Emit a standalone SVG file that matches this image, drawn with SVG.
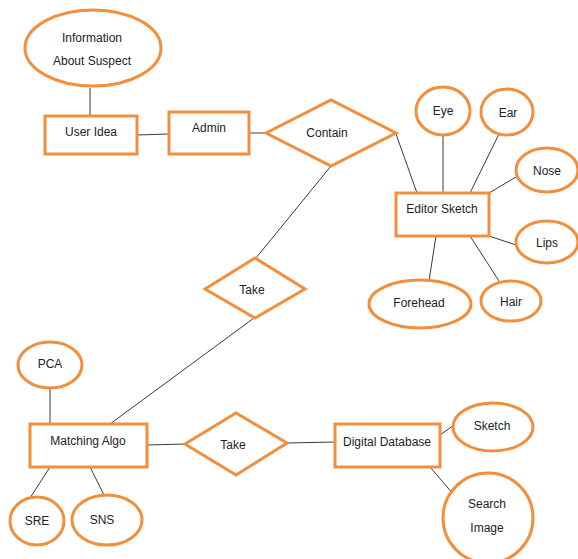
<svg xmlns="http://www.w3.org/2000/svg" width="578" height="559" viewBox="0 0 578 559">
<style>
.s{fill:#fff;stroke:#F28E3C;stroke-width:3}
.c line{stroke:#3a3a3a;stroke-width:1}
text{font-family:"Liberation Sans",Arial,sans-serif;font-size:12px;fill:#222;text-anchor:middle;dominant-baseline:central}
</style>
<rect width="578" height="559" fill="#fff"/>
<g class="c">
<line x1="90" y1="88" x2="90" y2="116"/>
<line x1="137" y1="135" x2="169" y2="134"/>
<line x1="249" y1="133" x2="266" y2="133"/>
<line x1="396" y1="134" x2="417" y2="193"/>
<line x1="443" y1="135" x2="443" y2="193"/>
<line x1="499" y1="134" x2="470" y2="193"/>
<line x1="516" y1="177" x2="489" y2="193"/>
<line x1="489" y1="236" x2="516" y2="245"/>
<line x1="470" y1="236" x2="499" y2="281"/>
<line x1="436" y1="236" x2="429" y2="281"/>
<line x1="331" y1="166" x2="256" y2="258"/>
<line x1="254" y1="318" x2="110" y2="424"/>
<line x1="50" y1="389" x2="50" y2="424"/>
<line x1="50" y1="467" x2="30" y2="498"/>
<line x1="90" y1="467" x2="105" y2="497"/>
<line x1="147" y1="445" x2="185" y2="444"/>
<line x1="287" y1="443" x2="335" y2="442"/>
<line x1="440" y1="435" x2="454" y2="425"/>
<line x1="430" y1="467" x2="454" y2="495"/>
</g>
<g id="info"><ellipse class="s" cx="93" cy="48" rx="68" ry="38"/><text x="92" y="38">Information</text><text x="92" y="61">About Suspect</text></g>
<g id="userIdea"><rect class="s" x="45" y="116" width="92" height="38"/><text x="91" y="132">User Idea</text></g>
<g id="admin"><rect class="s" x="169" y="112" width="80" height="42"/><text x="209" y="128">Admin</text></g>
<g id="contain"><polygon class="s" points="266,133 331,100 396,133 331,166"/><text x="327" y="133">Contain</text></g>
<g id="editor"><rect class="s" x="396" y="193" width="93" height="43"/><text x="442" y="209">Editor Sketch</text></g>
<g id="eye"><ellipse class="s" cx="443" cy="111" rx="27" ry="24"/><text x="443" y="111">Eye</text></g>
<g id="ear"><ellipse class="s" cx="507" cy="112" rx="26" ry="23"/><text x="508" y="113">Ear</text></g>
<g id="nose"><ellipse class="s" cx="547" cy="170" rx="31" ry="22"/><text x="547" y="171">Nose</text></g>
<g id="lips"><ellipse class="s" cx="547" cy="242" rx="31" ry="21"/><text x="547" y="243">Lips</text></g>
<g id="hair"><ellipse class="s" cx="511" cy="301" rx="30" ry="20"/><text x="511" y="302">Hair</text></g>
<g id="forehead"><ellipse class="s" cx="420" cy="304" rx="51" ry="24"/><text x="419" y="303">Forehead</text></g>
<g id="take1"><polygon class="s" points="205,289 255,258 305,289 255,318"/><text x="252" y="290">Take</text></g>
<g id="matching"><rect class="s" x="30" y="424" width="117" height="43"/><text x="88" y="441">Matching Algo</text></g>
<g id="pca"><ellipse class="s" cx="50" cy="365" rx="32" ry="23"/><text x="50" y="364">PCA</text></g>
<g id="sre"><ellipse class="s" cx="37" cy="521" rx="27" ry="24"/><text x="37" y="521">SRE</text></g>
<g id="sns"><ellipse class="s" cx="107" cy="520" rx="35" ry="25"/><text x="102" y="520">SNS</text></g>
<g id="take2"><polygon class="s" points="185,444 236,413 287,443 236,475"/><text x="233" y="445">Take</text></g>
<g id="digital"><rect class="s" x="335" y="424" width="105" height="43"/><text x="387" y="442">Digital Database</text></g>
<g id="sketch"><ellipse class="s" cx="493" cy="427" rx="40" ry="24"/><text x="492" y="426">Sketch</text></g>
<g id="search"><ellipse class="s" cx="488" cy="518" rx="45" ry="45"/><text x="487" y="504">Search</text><text x="487" y="528">Image</text></g>
</svg>
